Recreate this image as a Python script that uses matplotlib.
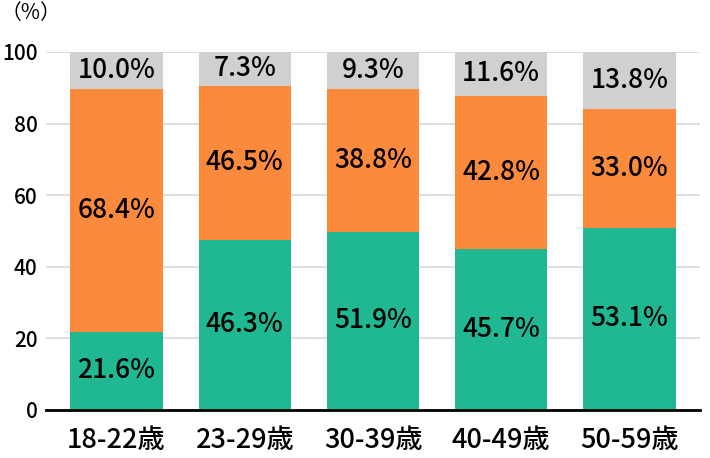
import matplotlib
matplotlib.use("Agg")
import matplotlib.pyplot as plt
import numpy as np

plt.rcParams['font.family'] = ['Noto Sans CJK JP', 'DejaVu Sans']

categories = ["18-22歳", "23-29歳", "30-39歳", "40-49歳", "50-59歳"]
# bar heights as drawn in the picture
green_vals = [21.9, 47.5, 49.8, 45.0, 50.9]
orange_vals = [67.8, 43.1, 39.9, 42.8, 33.2]
gray_vals = [10.3, 9.4, 10.3, 12.2, 15.9]
# value labels as printed in the picture
green_labels = ["21.6%", "46.3%", "51.9%", "45.7%", "53.1%"]
orange_labels = ["68.4%", "46.5%", "38.8%", "42.8%", "33.0%"]
gray_labels = ["10.0%", "7.3%", "9.3%", "11.6%", "13.8%"]
yticks = [0, 20, 40, 60, 80, 100]

colors = ["#1FB893", "#FB8A3C", "#D0D0D0"]

fig = plt.figure(figsize=(7.1, 4.58), dpi=100)
ax = fig.add_axes([46/710, 48/458, 654/710, 358/458])

x = np.arange(len(categories))
bottom = np.zeros(len(categories))
for vals, labels, c in zip([green_vals, orange_vals, gray_vals],
                           [green_labels, orange_labels, gray_labels], colors):
    vals = np.array(vals)
    ax.bar(x, vals, bottom=bottom, width=0.72, color=c, zorder=2)
    for xi, b, v, lab in zip(x, bottom, vals, labels):
        ax.text(xi, b + v / 2, lab, ha="center", va="center",
                fontsize=19, fontweight="medium", color="black", zorder=3)
    bottom = bottom + vals

ax.set_xlim(-0.55, 4.55)
ax.set_ylim(0, 100)
ax.set_yticks(yticks)
ax.set_yticklabels([str(t) for t in yticks], fontsize=15, fontweight="medium")
ax.set_xticks(x)
ax.set_xticklabels(categories, fontsize=19.5, fontweight="medium")
ax.tick_params(axis='y', length=0, pad=6)
ax.tick_params(axis='x', length=0, pad=12)
ax.grid(axis='y', color="#D9D9D9", linewidth=1.2, zorder=0)
ax.set_axisbelow(True)
for s in ["left", "right", "top"]:
    ax.spines[s].set_visible(False)
ax.spines["bottom"].set_color("black")
ax.spines["bottom"].set_linewidth(2)
ax.spines["bottom"].set_zorder(4)

fig.text(1/710, 1 - 13/458, "（%）", fontsize=15, ha="left", va="center")

fig.savefig("out.png", dpi=100)
